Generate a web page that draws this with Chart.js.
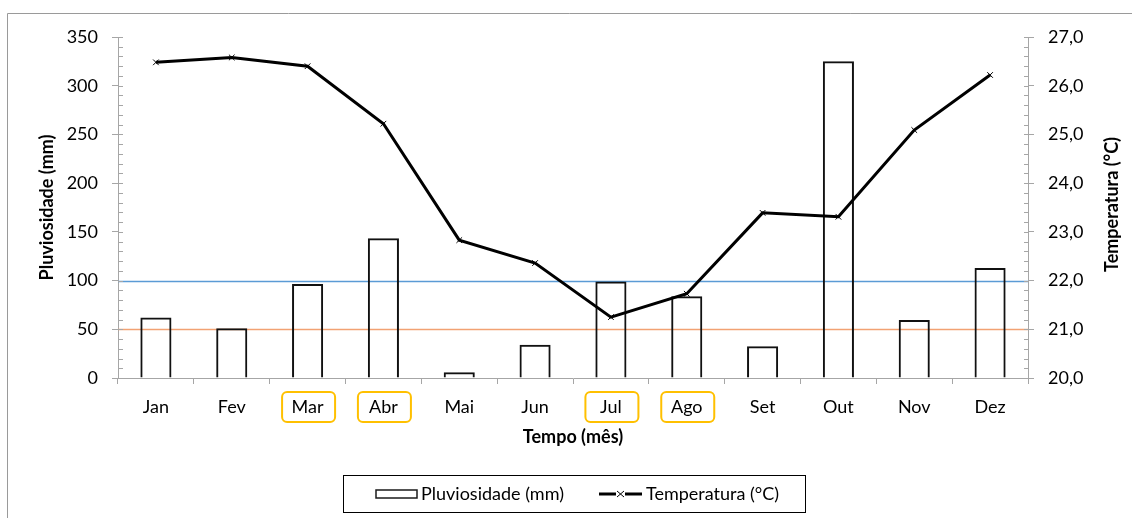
<!DOCTYPE html>
<html>
<head>
<meta charset="utf-8">
<script src="https://cdn.jsdelivr.net/npm/chart.js@4.4.1/dist/chart.umd.min.js"></script>
<style>
  html, body { margin: 0; padding: 0; background: #fff; }
  #wrap { width: 1132px; height: 518px; position: relative; }
</style>
</head>
<body>
<div id="wrap"><canvas id="grafico" width="1132" height="518"></canvas></div>
<script>
// DADOS
const months = ["Jan", "Fev", "Mar", "Abr", "Mai", "Jun", "Jul", "Ago", "Set", "Out", "Nov", "Dez"];
const rainfall = [62, 51, 96.5, 143.5, 6, 34, 99, 84, 32.5, 325, 59.5, 113];
const temperature = [26.48, 26.58, 26.4, 25.22, 22.83, 22.36, 21.25, 21.73, 23.39, 23.31, 25.09, 26.22];
const highlightedMonths = ["Mar", "Abr", "Jul", "Ago"];
const rainTicks = [0, 50, 100, 150, 200, 250, 300, 350];
const tempTicks = [20, 21, 22, 23, 24, 25, 26, 27];
const referenceLevels = [100, 50]; // pluviosidade (mm)

const GRAY = "#a6a6a6";
const FONT = "Lato";
Chart.defaults.font.family = FONT;
Chart.defaults.font.size = 18;
Chart.defaults.color = "#000";

// linhas de referência, ticks menores, caixas, títulos e legenda
const extras = {
  id: "extras",
  beforeDatasetsDraw(chart) {
    const { ctx, chartArea, scales } = chart;
    const refColors = ["#5b9bd5", "#f2a273"];
    ctx.save();
    referenceLevels.forEach((v, i) => {
      const y = Math.round(scales.y.getPixelForValue(v)) + 0.5;
      ctx.strokeStyle = refColors[i];
      ctx.lineWidth = 1.5;
      ctx.beginPath();
      ctx.moveTo(chartArea.left, y);
      ctx.lineTo(chartArea.right, y);
      ctx.stroke();
    });
    ctx.restore();
  },
  afterDraw(chart) {
    const { ctx, chartArea, scales } = chart;
    ctx.save();
    // moldura externa
    ctx.strokeStyle = "#9a9a9a";
    ctx.lineWidth = 1;
    ctx.beginPath();
    ctx.moveTo(7.5, chart.height);
    ctx.lineTo(7.5, 13.5);
    ctx.lineTo(chart.width, 13.5);
    ctx.stroke();

    // ticks internos
    ctx.strokeStyle = GRAY;
    const yl = scales.y, yr = scales.y1;
    for (let v = 0; v <= 350; v += 10) {
      const y = Math.round(yl.getPixelForValue(v)) + 0.5;
      ctx.beginPath();
      ctx.moveTo(chartArea.left, y);
      ctx.lineTo(chartArea.left + 5, y);
      ctx.stroke();
    }
    for (let k = 0; k <= 35; k++) {
      const y = Math.round(yr.getPixelForValue(20 + k * 0.2)) + 0.5;
      ctx.beginPath();
      ctx.moveTo(chartArea.right - 4, y);
      ctx.lineTo(chartArea.right, y);
      ctx.stroke();
    }

    // caixas laranja nos meses destacados
    ctx.strokeStyle = "#ffc000";
    ctx.lineWidth = 2;
    highlightedMonths.forEach((m) => {
      const cx = scales.x.getPixelForValue(months.indexOf(m)) + 1;
      ctx.beginPath();
      ctx.roundRect(cx - 26.5, 392, 53, 30, 5);
      ctx.stroke();
    });

    // títulos dos eixos
    ctx.fillStyle = "#000";
    ctx.font = "bold 18px " + FONT;
    ctx.textAlign = "center";
    ctx.textBaseline = "middle";
    const midY = (chartArea.top + chartArea.bottom) / 2;
    ctx.save();
    ctx.translate(47, midY);
    ctx.rotate(-Math.PI / 2);
    ctx.fillText("Pluviosidade (mm)", 0, 0);
    ctx.restore();
    ctx.save();
    ctx.translate(1112, midY - 3);
    ctx.rotate(-Math.PI / 2);
    ctx.fillText("Temperatura (°C)", 0, 0);
    ctx.restore();
    ctx.fillText("Tempo (mês)", (chartArea.left + chartArea.right) / 2, 437);

    // legenda
    const bx = 343, by = 475, bw = 462, bh = 37;
    ctx.strokeStyle = "#000";
    ctx.lineWidth = 1;
    ctx.strokeRect(bx + 0.5, by + 0.5, bw, bh);
    const cy = by + bh / 2 + 0.5;
    ctx.lineWidth = 1.5;
    ctx.fillStyle = "#fff";
    ctx.fillRect(376, cy - 4, 41, 8);
    ctx.strokeStyle = "#1a1a1a";
    ctx.strokeRect(376, cy - 4, 41, 8);
    ctx.fillStyle = "#000";
    ctx.font = "18px " + FONT;
    ctx.textAlign = "left";
    ctx.fillText(chart.data.datasets[0].label, 421, cy);
    ctx.strokeStyle = "#000";
    ctx.lineWidth = 3;
    ctx.beginPath();
    ctx.moveTo(599, cy);
    ctx.lineTo(642, cy);
    ctx.stroke();
    ctx.lineWidth = 1;
    ctx.fillStyle = "#fff";
    ctx.fillRect(616, cy - 4, 9, 8);
    ctx.beginPath();
    ctx.moveTo(617, cy - 3); ctx.lineTo(624, cy + 3);
    ctx.moveTo(624, cy - 3); ctx.lineTo(617, cy + 3);
    ctx.stroke();
    ctx.fillStyle = "#000";
    ctx.fillText(chart.data.datasets[1].label, 646, cy);
    ctx.restore();
  }
};

const config = {
  data: {
    labels: months,
    datasets: [
      {
        type: "bar",
        label: "Pluviosidade (mm)",
        data: rainfall,
        yAxisID: "y",
        backgroundColor: "rgba(255,255,255,0)",
        borderColor: "#111",
        borderWidth: 2,
        barPercentage: 0.41,
        categoryPercentage: 1,
        order: 2
      },
      {
        type: "line",
        label: "Temperatura (°C)",
        data: temperature,
        yAxisID: "y1",
        borderColor: "#000",
        borderWidth: 3,
        tension: 0,
        pointStyle: "crossRot",
        pointRadius: 4,
        pointBorderWidth: 1,
        pointBorderColor: "#000",
        pointBackgroundColor: "#000",
        order: 1
      }
    ]
  },
  options: {
    responsive: false,
    animation: false,
    layout: { padding: { top: 37, left: 0, right: 0, bottom: 70 } },
    plugins: { legend: { display: false }, tooltip: { enabled: false } },
    scales: {
      x: {
        grid: { offset: true, drawOnChartArea: false, tickLength: 6, color: GRAY },
        border: { color: GRAY, width: 1 },
        ticks: { padding: 12, maxRotation: 0 },
        afterFit: (s) => { s.height = 70; }
      },
      y: {
        position: "left",
        min: rainTicks[0],
        max: rainTicks[rainTicks.length - 1],
        afterBuildTicks: (s) => { s.ticks = rainTicks.map((v) => ({ value: v })); },
        grid: { drawOnChartArea: false, tickLength: 6, color: GRAY },
        border: { color: GRAY, width: 1 },
        ticks: { padding: 14 },
        afterFit: (s) => { s.width = 118; }
      },
      y1: {
        position: "right",
        min: tempTicks[0],
        max: tempTicks[tempTicks.length - 1],
        afterBuildTicks: (s) => { s.ticks = tempTicks.map((v) => ({ value: v })); },
        grid: { drawOnChartArea: false, tickLength: 6, color: GRAY },
        border: { color: GRAY, width: 1 },
        ticks: { padding: 14, callback: (v) => Number(v).toFixed(1).replace(".", ",") },
        afterFit: (s) => { s.width = 104; }
      }
    }
  },
  plugins: [extras]
};

window.onload = () => {
  new Chart(document.getElementById("grafico"), config);
};
</script>
</body>
</html>
